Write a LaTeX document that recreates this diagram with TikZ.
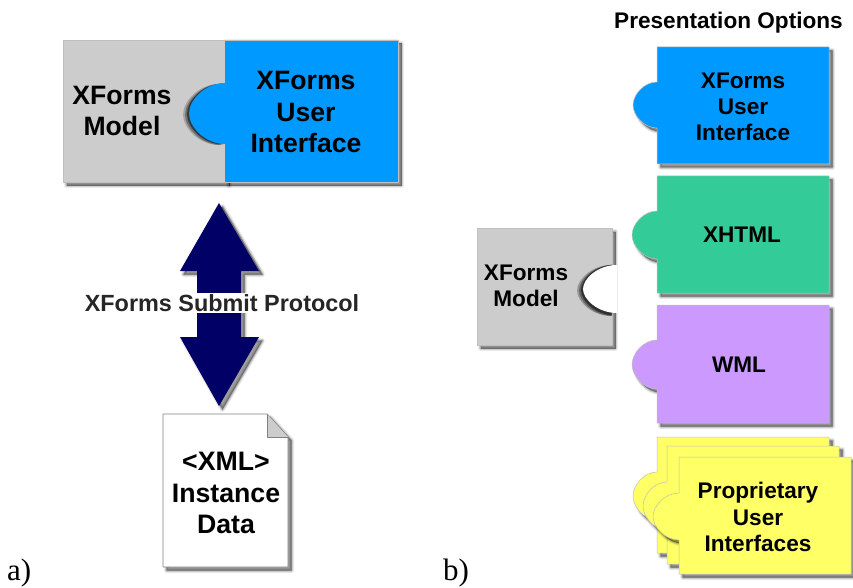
\documentclass[tikz,border=0pt]{standalone}
\usepackage{fontspec}
\setmainfont{Liberation Sans}
\newfontfamily\captfont{Liberation Serif}
\definecolor{cgray}{HTML}{CCCCCC}
\definecolor{cblue}{HTML}{0099FF}
\definecolor{cgreen}{HTML}{33CC99}
\definecolor{cpurple}{HTML}{CC99FF}
\definecolor{cyellow}{HTML}{FFFF66}
\definecolor{cnavy}{HTML}{000066}
% #1 x, #2 top, #3 bottom, #4 left
\newcommand\tabonly[4]{(#1,#3) .. controls ({#4+0.45*(#1-#4)},#3) and (#4,{#3-0.28*(#3-#2)}) .. (#4,{0.5*(#2+#3)}) .. controls (#4,{#2+0.28*(#3-#2)}) and ({#4+0.45*(#1-#4)},#2) .. (#1,#2) -- cycle}
% #1 x0, #2 y0, #3 x1, #4 y1, #5 tab top, #6 tab bottom, #7 tab left
\newcommand\piecepath[7]{(#1,#2) -- (#3,#2) -- (#3,#4) -- (#1,#4) -- (#1,#6) .. controls ({#7+0.45*(#1-#7)},#6) and (#7,{#6-0.28*(#6-#5)}) .. (#7,{0.5*(#5+#6)}) .. controls (#7,{#5+0.28*(#6-#5)}) and ({#7+0.45*(#1-#7)},#5) .. (#1,#5) -- cycle}
\newcommand\softshadow[1]{%
  \draw[black,opacity=.08,line width=5pt,line join=round,shift={(3.5,3.5)}] #1;
  \draw[black,opacity=.12,line width=3pt,line join=round,shift={(3.5,3.5)}] #1;
  \draw[black,opacity=.15,line width=1.4pt,line join=round,shift={(3.5,3.5)}] #1;
  \fill[black,opacity=.38,shift={(3.5,3.5)}] #1;}
\newcommand\softshape[2]{\softshadow{#2}\fill[#1] #2;\draw[edge] #2;}
\tikzset{
  edge/.style={black!25,line width=.5pt,line join=round},
  lbig/.style={font=\fontsize{26.6}{31.5}\selectfont\bfseries,align=center,inner sep=0pt,text=black},
  lsmall/.style={font=\fontsize{22.6}{26.2}\selectfont\bfseries,align=center,inner sep=0pt,text=black},
  capt/.style={font=\fontsize{31}{33}\selectfont\captfont,anchor=west,inner sep=0pt,text=black}
}
\begin{document}
\begin{tikzpicture}[x=1pt,y=-1pt]
\useasboundingbox[fill=white] (0,0) rectangle (853,588);
% ---- left assembly
\softshape{cgray}{(63,40) rectangle (226,182)}
\softshadow{(225,40) rectangle (398,182)}
\begin{scope}
  \clip (63,40) rectangle (225,182);
  \fill[black,opacity=.2,shift={(-6,1)}] \tabonly{225}{83}{144}{189};
  \fill[black,opacity=.3,shift={(-4,1)}] \tabonly{225}{83}{144}{189};
  \fill[black,opacity=.5,shift={(-2,.5)}] \tabonly{225}{83}{144}{189};
\end{scope}
\fill[cblue] \piecepath{225}{40}{398}{182}{83}{144}{189};
\draw[edge] (225,40) -- (398,40) -- (398,182) -- (225,182);
\node[lbig] (lmodel) at (122,111) {XForms\\Model};
\node[lbig] (lui) at (306,112) {XForms\\User\\Interface};
% ---- double arrow
\softshadow{(219,203) -- (259,271) -- (241,271) -- (241,337) -- (259,337) -- (219,406) -- (180,337) -- (197,337) -- (197,271) -- (180,271) -- cycle}
\fill[cnavy] (219,203) -- (259,271) -- (241,271) -- (241,337) -- (259,337) -- (219,406) -- (180,337) -- (197,337) -- (197,271) -- (180,271) -- cycle;
\node[font=\fontsize{23.4}{26}\selectfont\bfseries,fill=white,inner xsep=0pt,inner ysep=0pt,minimum height=20pt,text=black!85] (proto) at (222,303) {XForms Submit Protocol};
% ---- document
\softshadow{(163,414) -- (267,414) -- (288,437) -- (288,567) -- (163,567) -- cycle}
\fill[white] (163,414) -- (267,414) -- (288,437) -- (288,567) -- (163,567) -- cycle;
\draw[black!50,line width=.9pt,line join=round] (163,414) -- (267,414) -- (288,437) -- (288,567) -- (163,567) -- cycle;
\fill[cgray] (267,414) -- (288,437) -- (267,437) -- cycle;
\draw[black!50,line width=.9pt,line join=round] (267,414) -- (267,437) -- (288,437);
\node[font=\fontsize{26.7}{31.5}\selectfont\bfseries,align=center,inner sep=0pt,text=black] (xml) at (226,493) {<XML>\\Instance\\Data};
% ---- right model
\softshape{cgray}{(477,228) rectangle (612,345)}
\begin{scope}
  \clip (477,228) rectangle (612,345);
  \fill[black,opacity=.25,shift={(-6,1)}] \tabonly{617}{264}{315}{583};
  \fill[black,opacity=.35,shift={(-4,1)}] \tabonly{617}{264}{315}{583};
  \fill[black,opacity=.5,shift={(-2,.5)}] \tabonly{617}{264}{315}{583};
\end{scope}
\fill[white] \tabonly{617}{265}{313}{583};
\node[lsmall] (rmodel) at (526,286) {XForms\\Model};
% ---- presentation options
\node[lsmall] (title) at (728.5,23) {Presentation Options};
\softshape{cblue}{\piecepath{657}{47}{829}{164}{82}{128}{633}}
\node[lsmall] (rui) at (743,107) {XForms\\User\\Interface};
\softshape{cgreen}{\piecepath{657}{176}{829}{293}{211}{259}{632}}
\node[lsmall] (xhtml) at (742,235) {XHTML};
\softshape{cpurple}{\piecepath{657}{305}{829}{423}{340}{389}{632}}
\node[lsmall] (wml) at (739,365) {WML};
\softshape{cyellow}{\piecepath{657}{437}{829}{553}{472}{520}{633}}
\softshape{cyellow}{\piecepath{667}{446}{839}{564}{482}{530}{643}}
\softshape{cyellow}{\piecepath{679}{457}{851}{574}{493}{540}{653}}
\node[lsmall] (prop) at (758,517) {Proprietary\\User\\Interfaces};
% ---- captions
\node[capt] (capa) at (7,573) {a)};
\node[capt] (capb) at (443,573) {b)};
\end{tikzpicture}
\end{document}
